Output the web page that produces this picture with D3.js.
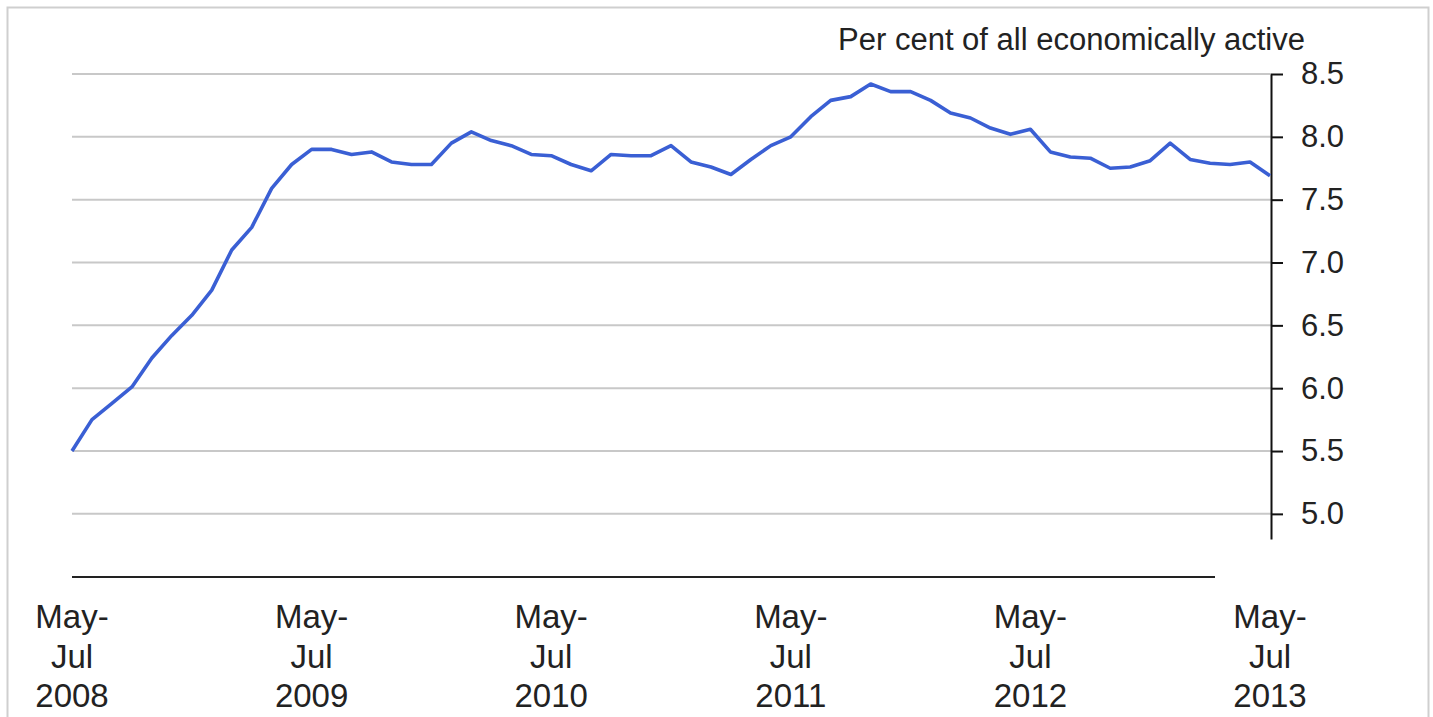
<!DOCTYPE html>
<html>
<head>
<meta charset="utf-8">
<script src="https://cdn.jsdelivr.net/npm/d3@7"></script>
<style>
  body { margin: 0; background: #fff; }
  text { font-family: "Liberation Sans", Arial, sans-serif; fill: #222; }
</style>
</head>
<body>
<div id="chart"></div>
<script>
// unemployment rate, rolling quarters May-Jul 2008 .. May-Jul 2013
var rates = [5.50, 5.75, 5.88, 6.01, 6.24, 6.42, 6.58, 6.78, 7.10, 7.28,
             7.59, 7.78, 7.90, 7.90, 7.86, 7.88, 7.80, 7.78, 7.78, 7.95,
             8.04, 7.97, 7.93, 7.86, 7.85, 7.78, 7.73, 7.86, 7.85, 7.85,
             7.93, 7.80, 7.76, 7.70, 7.82, 7.93, 8.00, 8.16, 8.29, 8.32,
             8.42, 8.36, 8.36, 8.29, 8.19, 8.15, 8.07, 8.02, 8.06, 7.88,
             7.84, 7.83, 7.75, 7.76, 7.81, 7.95, 7.82, 7.79, 7.78, 7.80,
             7.69];
var tickIndex = [0, 12, 24, 36, 48, 60];
var tickYears = ["2008", "2009", "2010", "2011", "2012", "2013"];
var yTicks = [5.0, 5.5, 6.0, 6.5, 7.0, 7.5, 8.0, 8.5];

var W = 1433, H = 717;
var m = { left: 72, right: 1271, top: 74, bottom: 539 };

var svg = d3.select("#chart").append("svg")
    .attr("width", W)
    .attr("height", H);

// outer frame
svg.append("rect")
    .attr("x", 7.5).attr("y", 7.5)
    .attr("width", 1421).attr("height", 730)
    .attr("fill", "none")
    .attr("stroke", "#cfcfcf")
    .attr("stroke-width", 2);

var x = d3.scaleLinear().domain([0, rates.length - 1]).range([m.left, 1270]);
var y = d3.scaleLinear().domain([4.8, 8.5]).range([m.bottom, m.top]);

// gridlines
svg.append("g")
    .selectAll("line")
    .data(yTicks)
    .enter().append("line")
    .attr("x1", m.left)
    .attr("x2", m.right)
    .attr("y1", function(d) { return y(d); })
    .attr("y2", function(d) { return y(d); })
    .attr("stroke", "#c8c8c8")
    .attr("stroke-width", 2);

// right value axis
var yAxis = d3.axisRight(y)
    .tickValues(yTicks)
    .tickSize(12)
    .tickSizeOuter(0)
    .tickPadding(18)
    .tickFormat(d3.format(".1f"));

var ay = svg.append("g")
    .attr("transform", "translate(" + m.right + ",0)")
    .call(yAxis);
ay.select(".domain").attr("stroke", "#111").attr("stroke-width", 2);
ay.selectAll(".tick line").attr("stroke", "#111").attr("stroke-width", 2);
ay.selectAll(".tick text")
    .style("font-size", "31px")
    .style("fill", "#222")
    .style("font-family", "'Liberation Sans', Arial, sans-serif");

// category axis line
svg.append("line")
    .attr("x1", m.left).attr("x2", 1215)
    .attr("y1", 577).attr("y2", 577)
    .attr("stroke", "#222")
    .attr("stroke-width", 2);

// category labels
var lab = svg.append("g").selectAll("text")
    .data(tickIndex)
    .enter().append("text")
    .attr("text-anchor", "middle")
    .attr("y", 628)
    .style("font-size", "33px");
lab.append("tspan").attr("x", function(d) { return x(d); }).text("May-");
lab.append("tspan").attr("x", function(d) { return x(d); }).attr("dy", 39.5).text("Jul");
lab.append("tspan").attr("x", function(d) { return x(d); }).attr("dy", 39.5)
    .text(function(d, i) { return tickYears[i]; });

// title
svg.append("text")
    .attr("x", 1305)
    .attr("y", 50)
    .attr("text-anchor", "end")
    .style("font-size", "31px")
    .text("Per cent of all economically active");

// line
var line = d3.line()
    .x(function(d, i) { return x(i); })
    .y(function(d) { return y(d); });

svg.append("path")
    .datum(rates)
    .attr("d", line)
    .attr("fill", "none")
    .attr("stroke", "#3a5fd4")
    .attr("stroke-width", 3.6)
    .attr("stroke-linejoin", "round");
</script>
</body>
</html>
